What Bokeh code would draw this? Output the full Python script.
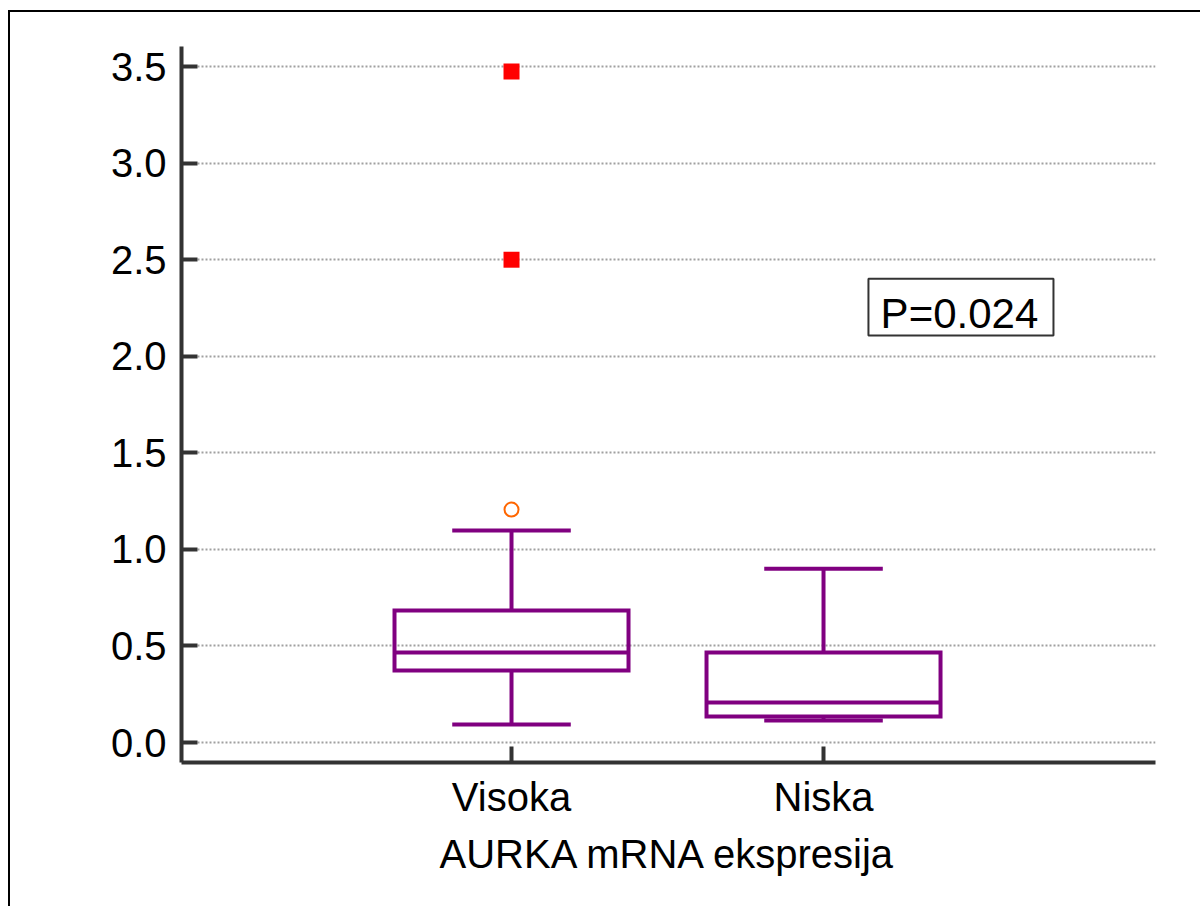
from bokeh.plotting import figure
from bokeh.models import FixedTicker, Label, ColumnDataSource, Range1d, PrintfTickFormatter, BoxAnnotation
from bokeh.embed import file_html
from bokeh.resources import INLINE

# ---- data ----
categories = ["Visoka", "Niska"]
positions = [1, 2]
q1 = [0.373, 0.135]
median = [0.466, 0.207]
q3 = [0.683, 0.466]
whisker_low = [0.093, 0.114]
whisker_high = [1.098, 0.900]
outside_x = [1]
outside_y = [1.206]
far_out_x = [1, 1]
far_out_y = [3.474, 2.500]
y_ticks = [0.0, 0.5, 1.0, 1.5, 2.0, 2.5, 3.0, 3.5]
p_value_text = "P=0.024"
x_title = "AURKA mRNA ekspresija"

FONT = "Liberation Sans"
PURPLE = "#800080"
AXIS = "#333333"
BOX_HALF = 0.375
CAP_HALF = 0.19

p = figure(width=1200, height=906, output_backend="svg", toolbar_location=None,
           x_range=Range1d(-0.0577, 3.064), y_range=Range1d(-0.1035, 3.604),
           min_border_left=171, min_border_right=55, min_border_top=34, min_border_bottom=156)
p.styles = {"border": "2px solid black", "margin-left": "8px", "margin-top": "10px"}
p.outline_line_color = None
p.background_fill_color = "white"
p.border_fill_color = "white"

src = ColumnDataSource(dict(
    x=positions,
    left=[v - BOX_HALF for v in positions],
    right=[v + BOX_HALF for v in positions],
    cl=[v - CAP_HALF for v in positions],
    cr=[v + CAP_HALF for v in positions],
    q1=q1, med=median, q3=q3, lo=whisker_low, hi=whisker_high,
))

LW = 4
# whiskers
p.segment(x0="x", y0="q3", x1="x", y1="hi", source=src, line_color=PURPLE, line_width=LW)
p.segment(x0="x", y0="lo", x1="x", y1="q1", source=src, line_color=PURPLE, line_width=LW)
p.segment(x0="cl", y0="hi", x1="cr", y1="hi", source=src, line_color=PURPLE, line_width=LW)
p.segment(x0="cl", y0="lo", x1="cr", y1="lo", source=src, line_color=PURPLE, line_width=LW)
# boxes
p.quad(left="left", right="right", bottom="q1", top="q3", source=src,
       fill_color=None, line_color=PURPLE, line_width=LW, line_join="miter")
p.segment(x0="left", y0="med", x1="right", y1="med", source=src, line_color=PURPLE, line_width=LW)

# outliers
p.scatter(outside_x, outside_y, marker="circle", size=14, fill_color=None,
          line_color="#FF6600", line_width=2)
p.scatter(far_out_x, far_out_y, marker="square", size=16, fill_color="#FF0000",
          line_color=None)

# axes
p.xaxis.ticker = FixedTicker(ticks=positions)
p.xaxis.major_label_overrides = {pos: c for pos, c in zip(positions, categories)}
p.yaxis.ticker = FixedTicker(ticks=y_ticks)
p.yaxis.formatter = PrintfTickFormatter(format="%.1f")
p.xaxis.axis_label = x_title

for ax in (p.xaxis, p.yaxis):
    ax.axis_line_color = AXIS
    ax.axis_line_width = 4
    ax.major_tick_line_color = AXIS
    ax.major_tick_line_width = 4
    ax.major_tick_in = 16
    ax.major_tick_out = 0
    ax.minor_tick_line_color = None
    ax.major_label_text_font = FONT
    ax.major_label_text_font_size = "40px"
    ax.major_label_text_color = "black"
    ax.major_label_standoff = 12
    ax.axis_label_text_font = FONT
    ax.axis_label_text_font_size = "40px"
    ax.axis_label_text_font_style = "normal"
    ax.axis_label_text_color = "black"
p.yaxis.major_label_standoff = 15
p.xaxis.axis_label_standoff = 10

p.xgrid.grid_line_color = None
p.ygrid.ticker = FixedTicker(ticks=y_ticks)
p.ygrid.grid_line_color = "#a0a0a0"
p.ygrid.grid_line_width = 2
p.ygrid.grid_line_dash = "2 2"

box = BoxAnnotation(left=2.144, right=2.737, top=2.402, bottom=2.107,
                    fill_color="white", fill_alpha=1.0,
                    line_color=AXIS, line_alpha=1.0, line_width=2)
p.add_layout(box)
lab = Label(x=2.183, y=2.222, text=p_value_text, text_baseline="alphabetic", text_align="left",
            text_font=FONT, text_font_size="42px", text_color="black")
p.add_layout(lab)

open("out.html", "w").write(file_html(p, INLINE))
